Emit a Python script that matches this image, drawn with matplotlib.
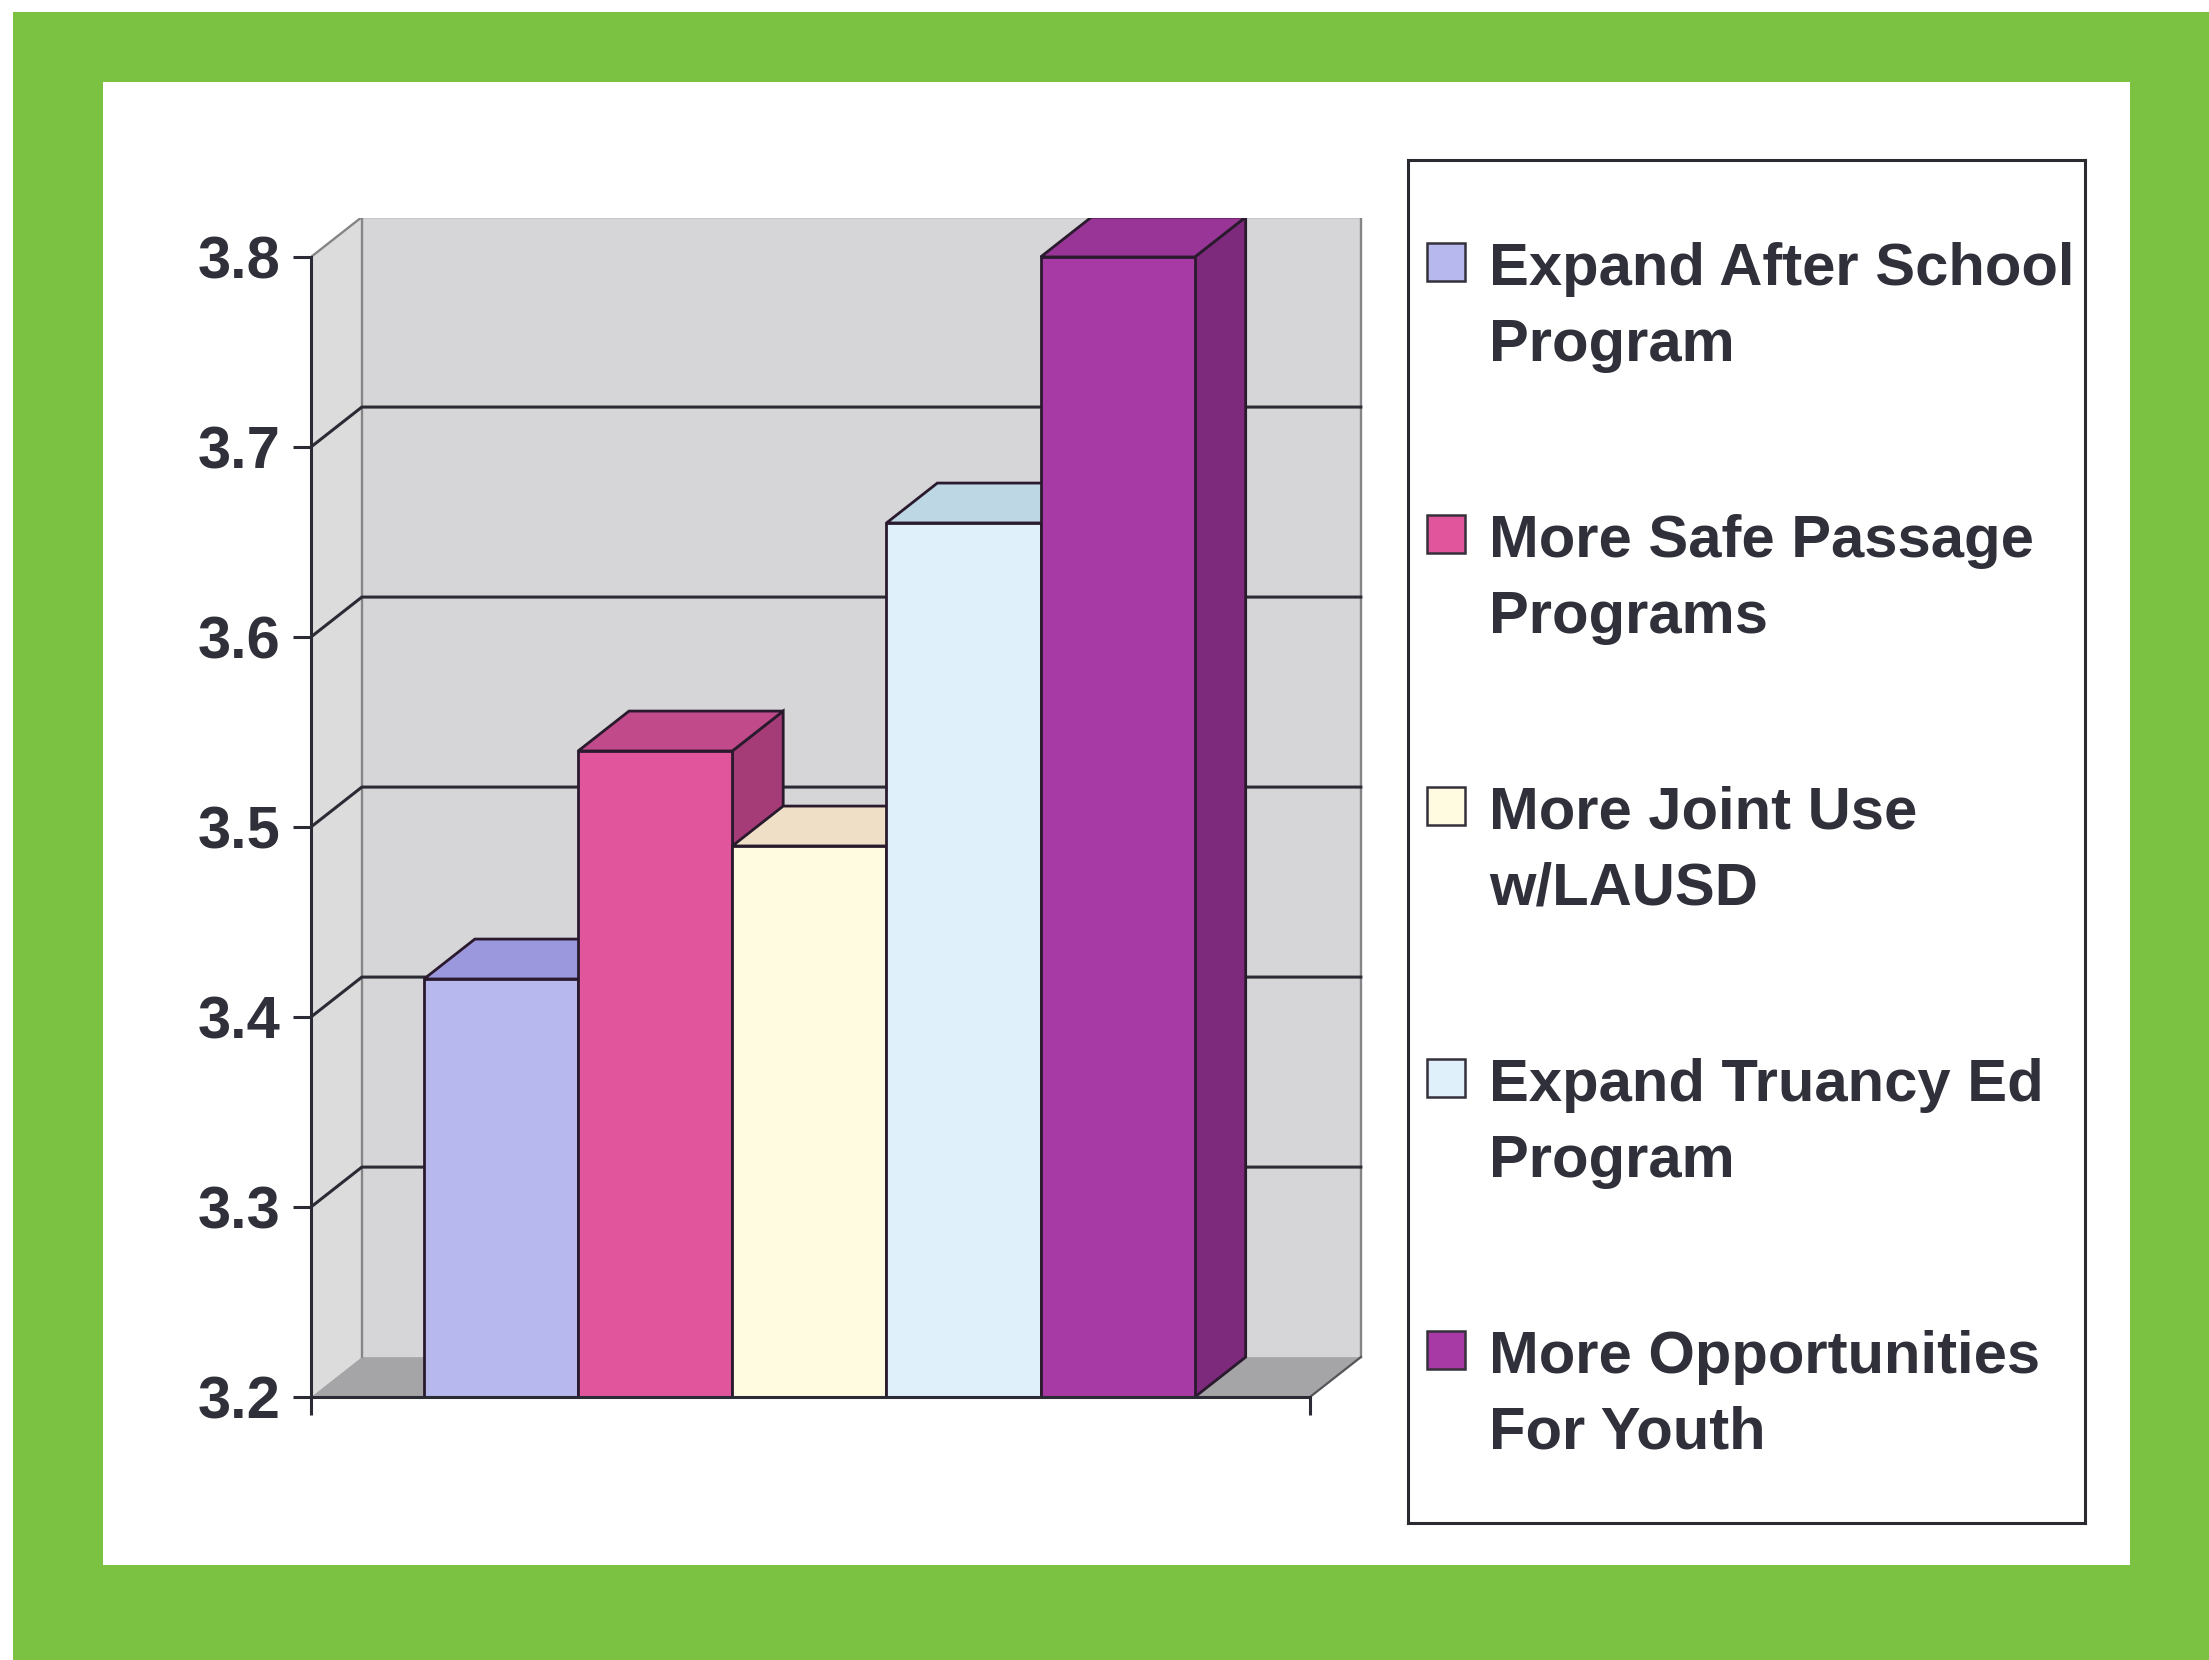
import numpy as np
import matplotlib
matplotlib.use("Agg")
import matplotlib.pyplot as plt
from matplotlib.patches import Rectangle, Polygon

# Data
categories = [
    "Expand After School\nProgram",
    "More Safe Passage\nPrograms",
    "More Joint Use\nw/LAUSD",
    "Expand Truancy Ed\nProgram",
    "More Opportunities\nFor Youth",
]
values = [3.42, 3.54, 3.49, 3.66, 3.80]
y_ticks = [3.2, 3.3, 3.4, 3.5, 3.6, 3.7, 3.8]
y_labels = ["3.2", "3.3", "3.4", "3.5", "3.6", "3.7", "3.8"]

front_colors = ["#b6b8ee", "#e0559b", "#fffbe0", "#dff0fa", "#a83aa6"]
top_colors = ["#9c98de", "#c04a8a", "#eedfc6", "#bdd7e4", "#9a3598"]
side_colors = ["#8480c8", "#a53c78", "#d8c8a8", "#a6c2d0", "#7e2a7c"]

# Style
GREEN = "#7cc242"
BACK_WALL = "#d6d6d8"
SIDE_WALL = "#dcdcdd"
FLOOR = "#a5a5a7"
GRID = "#2b2b35"
EDGE = "#2a1a2e"
TEXT = "#30303b"

plt.rcParams["font.family"] = ["Liberation Sans", "DejaVu Sans"]
plt.rcParams["font.weight"] = "bold"

W, H, DPI = 2209, 1660, 100


def px_box(x0, y0, x1, y1):
    """pixel box (top-left origin) -> figure fraction rect"""
    return [x0 / W, 1 - y1 / H, (x1 - x0) / W, (y1 - y0) / H]


fig = plt.figure(figsize=(W / DPI, H / DPI), dpi=DPI, facecolor=GREEN)

# white card on the green frame, plus the scan's white edge strips
for x0, y0, x1, y1 in [(103, 82, 2130, 1565), (0, 0, 13, H), (0, 0, W, 12)]:
    fig.add_artist(Rectangle((x0 / W, 1 - y1 / H), (x1 - x0) / W, (y1 - y0) / H,
                             transform=fig.transFigure, fc="white", ec="none", zorder=0))

# main chart
ax = fig.add_axes(px_box(311, 218, 1367, 1397))
ax.set_facecolor("none")
ax.set_xlim(0, 6.85)
ax.set_ylim(3.2, 3.8205)

base = y_ticks[0]
top = y_ticks[-1]
DX = 0.33      # depth offset, x units
DY = 0.021     # depth offset, value units
X_END = 6.48
BAR_START = 0.733
BAR_W = 1.0

# walls and floor
ax.fill([0, DX, DX, 0], [base, base + DY, top + DY, top], color=SIDE_WALL, zorder=0.5, lw=0)
ax.fill([DX, X_END + DX, X_END + DX, DX], [base + DY, base + DY, top + DY, top + DY],
        color=BACK_WALL, zorder=0.5, lw=0)
ax.fill([0, X_END, X_END + DX, DX], [base, base, base + DY, base + DY],
        color=FLOOR, zorder=0.6, lw=0)
ax.plot([DX, DX, X_END + DX, X_END + DX], [base + DY, top + DY, top + DY, base + DY],
        color="#858588", lw=1.7, zorder=0.7)
ax.plot([0, DX], [top, top + DY], color="#858588", lw=1.7, zorder=0.7)
ax.plot([X_END, X_END + DX], [base, base + DY], color="#55555a", lw=1.6, zorder=0.7)

for v in y_ticks[1:-1]:
    ax.plot([0, DX, X_END + DX], [v, v + DY, v + DY], color=GRID, lw=2.2, zorder=0.8)

# 3D-looking bars, drawn left to right
for i, v in enumerate(values):
    x0 = BAR_START + i * BAR_W
    x1 = x0 + BAR_W
    z = 3 + i
    ax.add_patch(Polygon([(x1, base), (x1 + DX, base + DY), (x1 + DX, v + DY), (x1, v)],
                         closed=True, fc=side_colors[i], ec=EDGE, lw=2.0, zorder=z - 0.2))
    ax.add_patch(Polygon([(x0, v), (x1, v), (x1 + DX, v + DY), (x0 + DX, v + DY)],
                         closed=True, fc=top_colors[i], ec=EDGE, lw=2.0, zorder=z - 0.1))
    ax.bar(x0, v - base, bottom=base, width=BAR_W, align="edge",
           color=front_colors[i], edgecolor=EDGE, linewidth=2.0, zorder=z)

# axes
for side in ["top", "right"]:
    ax.spines[side].set_visible(False)
for side in ["left", "bottom"]:
    ax.spines[side].set_color(GRID)
    ax.spines[side].set_linewidth(2.2)
    ax.spines[side].set_zorder(10)
ax.spines["left"].set_bounds(base, top)
ax.spines["bottom"].set_bounds(0, X_END)

ax.set_yticks(y_ticks)
ax.set_yticklabels(y_labels, fontsize=43, fontweight="bold", color=TEXT)
ax.set_xticks([0, X_END])
ax.set_xticklabels(["", ""])
ax.tick_params(axis="both", direction="out", length=13, width=2.2, color=GRID, pad=9)

# legend box
lax = fig.add_axes(px_box(1408, 160, 2085, 1523))
lax.set_xlim(1408, 2085)
lax.set_ylim(1523, 160)
lax.set_xticks([])
lax.set_yticks([])
for s in lax.spines.values():
    s.set_linewidth(2.2)
    s.set_color("#2a2a30")

for i, label in enumerate(categories):
    cy = 262 + i * 272
    lax.add_patch(Rectangle((1427, cy - 19), 38, 38, fc=front_colors[i], ec="#35303a", lw=1.8))
    for k, line in enumerate(label.split("\n")):
        lax.text(1489, 285 + i * 272 + k * 76, line, fontsize=43, fontweight="bold",
                 color=TEXT, va="baseline", ha="left", clip_on=False)

fig.savefig("out.png", dpi=DPI, facecolor=GREEN)
